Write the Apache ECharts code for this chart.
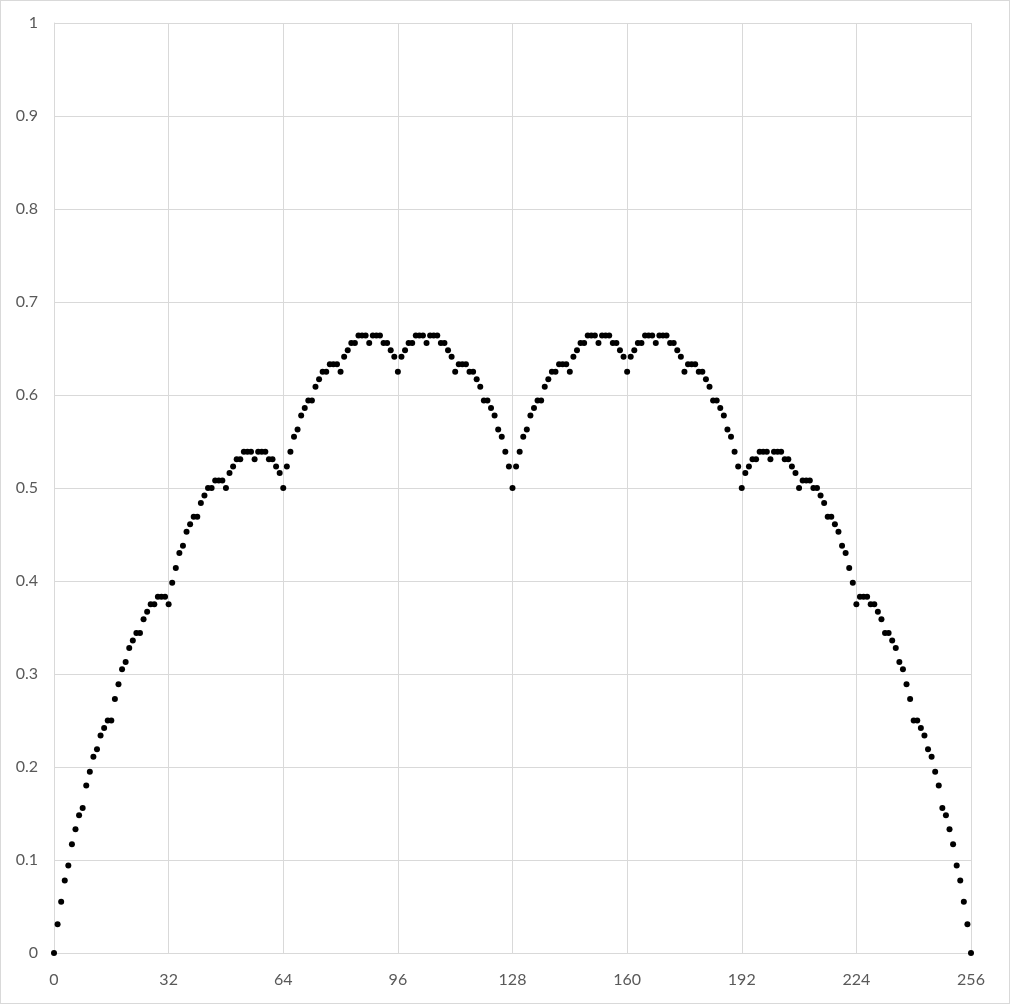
<!DOCTYPE html>
<html>
<head>
<meta charset="utf-8">
<script src="https://cdn.jsdelivr.net/npm/echarts@6/dist/echarts.min.js"></script>
<style>
  html, body { margin: 0; padding: 0; background: #fff; }
  #chart {
    width: 1010px;
    height: 1004px;
    box-sizing: border-box;
    border: 1px solid #d9d9d9;
  }
</style>
</head>
<body>
<div id="chart"></div>
<script>
// y values for x = 0, 1, 2, ... 256
const yValues = [
  0, 0.031, 0.055, 0.078, 0.094, 0.117, 0.133, 0.148, 0.156, 0.180,
  0.195, 0.211, 0.219, 0.234, 0.242, 0.250, 0.250, 0.273, 0.289, 0.305,
  0.313, 0.328, 0.336, 0.344, 0.344, 0.359, 0.367, 0.375, 0.375, 0.383,
  0.383, 0.383, 0.375, 0.398, 0.414, 0.430, 0.438, 0.453, 0.461, 0.469,
  0.469, 0.484, 0.492, 0.500, 0.500, 0.508, 0.508, 0.508, 0.500, 0.516,
  0.523, 0.531, 0.531, 0.539, 0.539, 0.539, 0.531, 0.539, 0.539, 0.539,
  0.531, 0.531, 0.523, 0.516, 0.500, 0.523, 0.539, 0.555, 0.563, 0.578,
  0.586, 0.594, 0.594, 0.609, 0.617, 0.625, 0.625, 0.633, 0.633, 0.633,
  0.625, 0.641, 0.648, 0.656, 0.656, 0.664, 0.664, 0.664, 0.656, 0.664,
  0.664, 0.664, 0.656, 0.656, 0.648, 0.641, 0.625, 0.641, 0.648, 0.656,
  0.656, 0.664, 0.664, 0.664, 0.656, 0.664, 0.664, 0.664, 0.656, 0.656,
  0.648, 0.641, 0.625, 0.633, 0.633, 0.633, 0.625, 0.625, 0.617, 0.609,
  0.594, 0.594, 0.586, 0.578, 0.563, 0.555, 0.539, 0.523, 0.500,
  // x = 129 .. 256
  0.523, 0.539, 0.555, 0.563, 0.578, 0.586, 0.594, 0.594, 0.609, 0.617,
  0.625, 0.625, 0.633, 0.633, 0.633, 0.625, 0.641, 0.648, 0.656, 0.656,
  0.664, 0.664, 0.664, 0.656, 0.664, 0.664, 0.664, 0.656, 0.656, 0.648,
  0.641, 0.625, 0.641, 0.648, 0.656, 0.656, 0.664, 0.664, 0.664, 0.656,
  0.664, 0.664, 0.664, 0.656, 0.656, 0.648, 0.641, 0.625, 0.633, 0.633,
  0.633, 0.625, 0.625, 0.617, 0.609, 0.594, 0.594, 0.586, 0.578, 0.563,
  0.555, 0.539, 0.523, 0.500, 0.516, 0.523, 0.531, 0.531, 0.539, 0.539,
  0.539, 0.531, 0.539, 0.539, 0.539, 0.531, 0.531, 0.523, 0.516, 0.500,
  0.508, 0.508, 0.508, 0.500, 0.500, 0.492, 0.484, 0.469, 0.469, 0.461,
  0.453, 0.438, 0.430, 0.414, 0.398, 0.375, 0.383, 0.383, 0.383, 0.375,
  0.375, 0.367, 0.359, 0.344, 0.344, 0.336, 0.328, 0.313, 0.305, 0.289,
  0.273, 0.250, 0.250, 0.242, 0.234, 0.219, 0.211, 0.195, 0.180, 0.156,
  0.148, 0.133, 0.117, 0.094, 0.078, 0.055, 0.031, 0
];

const xMin = 0, xMax = 256, xStep = 32;
const yMin = 0, yMax = 1, yStep = 0.1;

const labelStyle = {
  color: "#595959",
  fontFamily: "Lato, 'Open Sans', sans-serif",
  fontSize: 16,
};
const gridLine = { lineStyle: { color: "#d9d9d9", width: 1 } };

const chart = echarts.init(document.getElementById("chart"), null, { renderer: "canvas" });
chart.setOption({
  animation: false,
  grid: { left: 53, right: 38, top: 22, bottom: 50 },
  xAxis: {
    type: "value",
    min: xMin,
    max: xMax,
    interval: xStep,
    axisLine: { show: true, lineStyle: { color: "#d9d9d9" } },
    axisTick: { show: false },
    splitLine: gridLine,
    axisLabel: { ...labelStyle, margin: 19 },
  },
  yAxis: {
    type: "value",
    min: yMin,
    max: yMax,
    interval: yStep,
    axisLine: { show: true, lineStyle: { color: "#d9d9d9" } },
    axisTick: { show: false },
    splitLine: gridLine,
    axisLabel: {
      ...labelStyle,
      margin: 16,
      formatter: (v) => String(Math.round(v * 10) / 10),
    },
  },
  series: [
    {
      type: "scatter",
      symbol: "circle",
      symbolSize: 6,
      itemStyle: { color: "#000", opacity: 1 },
      data: yValues.map((y, i) => [i, y]),
    },
  ],
});
</script>
</body>
</html>
